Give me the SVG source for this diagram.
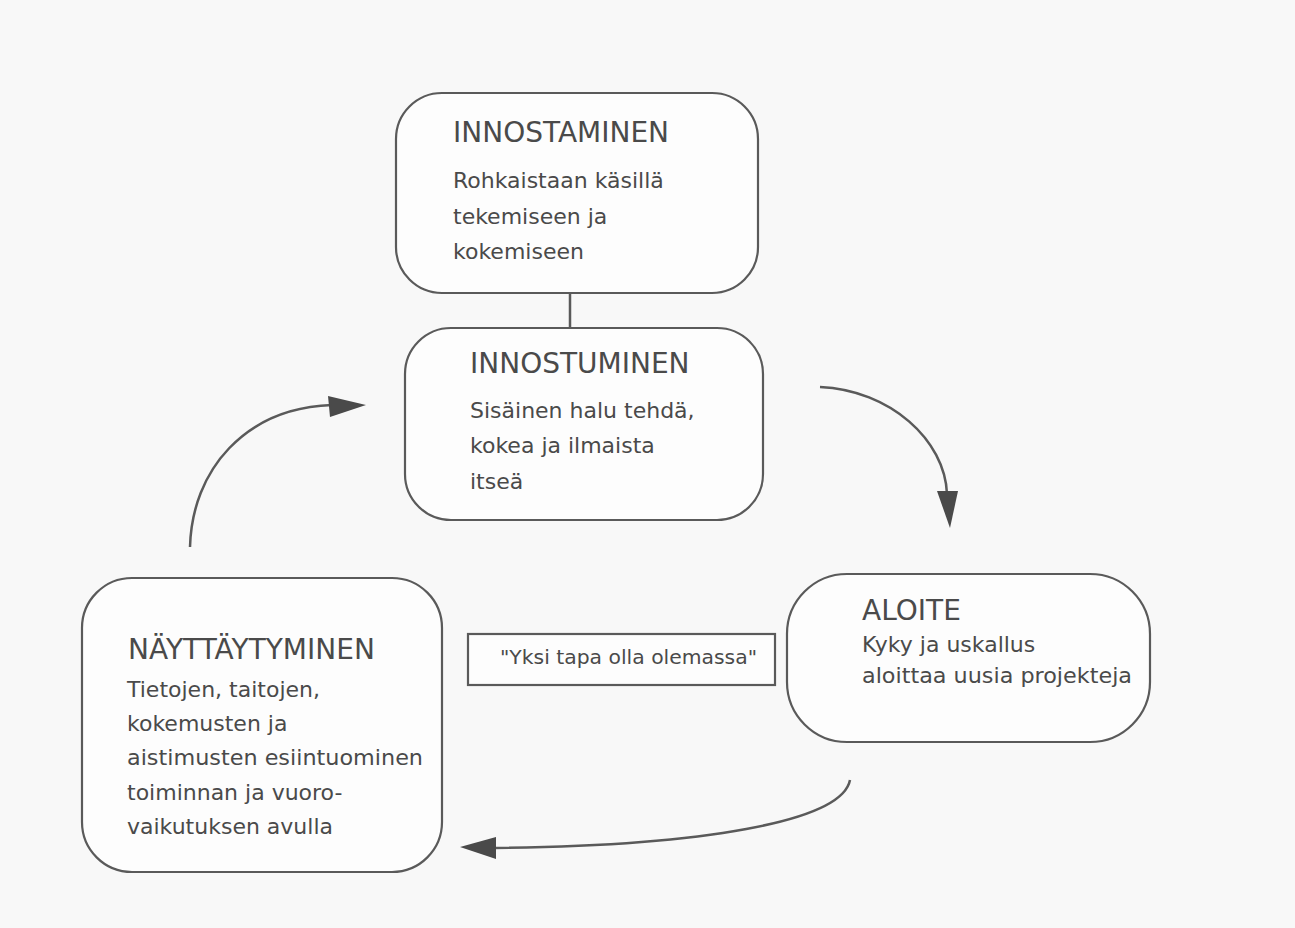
<svg xmlns="http://www.w3.org/2000/svg" width="1295" height="928" viewBox="0 0 1295 928">
<defs>
<style>
.box{fill:#fdfdfd;stroke:#5a5a5a;stroke-width:2.2}
.title{font-family:"DejaVu Sans","Liberation Sans",sans-serif;font-size:28px;fill:#4a4a4a}
.body{font-family:"DejaVu Sans","Liberation Sans",sans-serif;font-size:22px;fill:#4a4a4a}
.conn{fill:none;stroke:#5a5a5a;stroke-width:2.5}
.head{fill:#4a4a4a}
</style>
</defs>
<rect x="0" y="0" width="1295" height="928" fill="#f8f8f8"/>
<g id="connectors">
<line class="conn" x1="570" y1="293" x2="570" y2="328"/>
<path class="conn" d="M190,547 C192,470 245,408 332,405"/>
<polygon class="head" points="366,405 328,396 330,417"/>
<path class="conn" d="M820,387 C890,390 945,440 947,494"/>
<polygon class="head" points="950,528 937,491 958,491"/>
<path class="conn" d="M850,780 C842,822 700,846 494,848"/>
<polygon class="head" points="460,847 496,837 496,859"/>
</g>
<g id="innostaminen">
<rect class="box" x="396" y="93" width="362" height="200" rx="46"/>
<text class="title" x="453" y="142">INNOSTAMINEN</text>
<text class="body" x="453" y="188">Rohkaistaan käsillä</text>
<text class="body" x="453" y="224">tekemiseen ja</text>
<text class="body" x="453" y="259">kokemiseen</text>
</g>
<g id="innostuminen">
<rect class="box" x="405" y="328" width="358" height="192" rx="46"/>
<text class="title" x="470" y="373">INNOSTUMINEN</text>
<text class="body" x="470" y="418">Sisäinen halu tehdä,</text>
<text class="body" x="470" y="453">kokea ja ilmaista</text>
<text class="body" x="470" y="489">itseä</text>
</g>
<g id="aloite">
<rect class="box" x="787" y="574" width="363" height="168" rx="60"/>
<text class="title" x="862" y="620">ALOITE</text>
<text class="body" x="862" y="652">Kyky ja uskallus</text>
<text class="body" x="862" y="683" textLength="270" lengthAdjust="spacingAndGlyphs">aloittaa uusia projekteja</text>
</g>
<g id="nayttaytyminen">
<rect class="box" x="82" y="578" width="360" height="294" rx="50"/>
<text class="title" x="128" y="659">NÄYTTÄYTYMINEN</text>
<text class="body" x="127" y="697">Tietojen, taitojen,</text>
<text class="body" x="127" y="731">kokemusten ja</text>
<text class="body" x="127" y="765" textLength="296" lengthAdjust="spacingAndGlyphs">aistimusten esiintuominen</text>
<text class="body" x="127" y="800">toiminnan ja vuoro-</text>
<text class="body" x="127" y="834">vaikutuksen avulla</text>
</g>
<g id="yksi-tapa">
<rect x="468" y="634" width="307" height="51" fill="#fdfdfd" stroke="#5a5a5a" stroke-width="2.2"/>
<text x="500" y="664" font-family="DejaVu Sans, Liberation Sans, sans-serif" font-size="20" fill="#4a4a4a" textLength="257" lengthAdjust="spacingAndGlyphs">"Yksi tapa olla olemassa"</text>
</g>
</svg>
